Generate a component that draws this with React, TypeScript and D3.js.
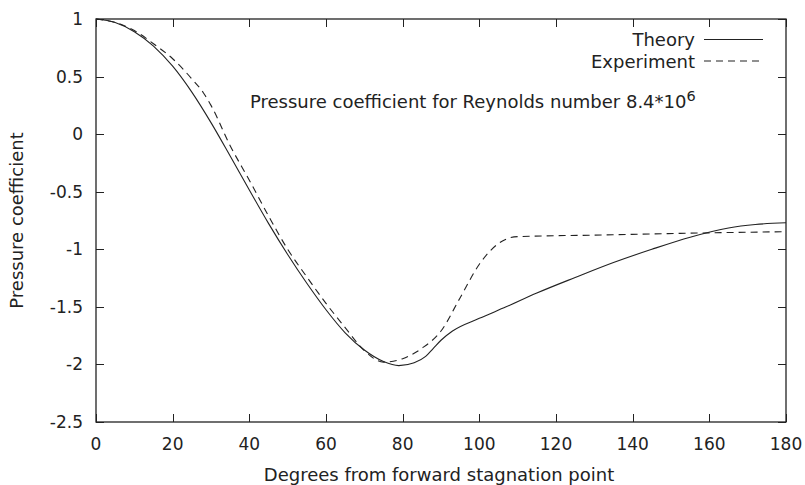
import React, { useEffect, useRef } from "react";
import * as d3 from "d3";

// degrees from forward stagnation point
const theoryDeg = [0, 5, 10, 15, 20, 25, 30, 35, 40, 45, 50, 55, 60, 65, 70, 75, 79, 83, 86, 88, 90, 93, 100, 107, 115, 125, 135, 145, 155, 165, 172, 180];
const theoryCp = [1.0, 0.97, 0.89, 0.765, 0.59, 0.365, 0.1, -0.19, -0.485, -0.775, -1.045, -1.295, -1.525, -1.725, -1.875, -1.975, -2.01, -1.985, -1.93, -1.86, -1.79, -1.71, -1.6, -1.5, -1.38, -1.245, -1.115, -1.0, -0.895, -0.815, -0.785, -0.77];

const expDeg = [0, 5, 10, 15, 20, 25, 28, 30, 35, 40, 45, 50, 55, 60, 65, 70, 75, 80, 85, 90, 95, 100, 105, 108, 110, 130, 155, 180];
const expCp = [1.0, 0.97, 0.9, 0.785, 0.655, 0.48, 0.36, 0.25, -0.1, -0.4, -0.71, -1.0, -1.24, -1.47, -1.68, -1.88, -1.98, -1.95, -1.86, -1.71, -1.42, -1.13, -0.95, -0.9, -0.89, -0.877, -0.86, -0.847];

const xTicks = [0, 20, 40, 60, 80, 100, 120, 140, 160, 180];
const yTicks = [1, 0.5, 0, -0.5, -1, -1.5, -2, -2.5];

const W = 805, H = 485;
const left = 96, right = 786, top = 19, bottom = 422;

export default function App() {
  const ref = useRef<SVGSVGElement>(null);

  useEffect(() => {
    const svg = d3.select(ref.current);
    svg.selectAll("*").remove();
    const font = "'DejaVu Sans', sans-serif";
    const ink = "#222";

    const x = d3.scaleLinear().domain([0, 180]).range([left, right]);
    const y = d3.scaleLinear().domain([-2.5, 1]).range([bottom, top]);

    svg.append("rect").attr("width", W).attr("height", H).attr("fill", "white");

    // ticks (inward, mirrored on top/right)
    const tl = 8;
    const g = svg.append("g").attr("stroke", ink).attr("stroke-width", 1);
    xTicks.forEach((t) => {
      const px = Math.round(x(t)) + 0.5;
      g.append("line").attr("x1", px).attr("x2", px).attr("y1", bottom).attr("y2", bottom - tl);
      g.append("line").attr("x1", px).attr("x2", px).attr("y1", top).attr("y2", top + tl);
    });
    yTicks.forEach((t) => {
      const py = Math.round(y(t)) + 0.5;
      g.append("line").attr("x1", left).attr("x2", left + tl).attr("y1", py).attr("y2", py);
      g.append("line").attr("x1", right).attr("x2", right - tl).attr("y1", py).attr("y2", py);
    });

    // tick labels
    svg.append("g").selectAll("text").data(xTicks).join("text")
      .attr("x", (d) => x(d)).attr("y", 450)
      .attr("text-anchor", "middle").attr("font-family", font).attr("font-size", 17).attr("fill", ink)
      .text((d) => String(d));
    svg.append("g").selectAll("text").data(yTicks).join("text")
      .attr("x", 83).attr("y", (d) => y(d) + 6)
      .attr("text-anchor", "end").attr("font-family", font).attr("font-size", 17).attr("fill", ink)
      .text((d) => String(d));

    // curves
    const line = d3.line().curve(d3.curveMonotoneX);
    const theoryPts = theoryDeg.map((d, i) => [x(d), y(theoryCp[i])] as [number, number]);
    const expPts = expDeg.map((d, i) => [x(d), y(expCp[i])] as [number, number]);

    svg.append("path")
      .attr("d", line(theoryPts))
      .attr("fill", "none").attr("stroke", ink).attr("stroke-width", 1.1);
    svg.append("path")
      .attr("d", line(expPts))
      .attr("fill", "none").attr("stroke", ink).attr("stroke-width", 1.1)
      .attr("stroke-dasharray", "7,5");

    // frame
    svg.append("rect")
      .attr("x", left).attr("y", top).attr("width", right - left).attr("height", bottom - top)
      .attr("fill", "none").attr("stroke", ink).attr("stroke-width", 1.3);

    // legend
    const legend = [
      { name: "Theory", dash: null as string | null, y: 39.5 },
      { name: "Experiment", dash: "7,5", y: 61 },
    ];
    legend.forEach((l) => {
      svg.append("text").attr("x", 695).attr("y", l.y + 6.5)
        .attr("text-anchor", "end").attr("font-family", font).attr("font-size", 18).attr("fill", ink)
        .text(l.name);
      const ln = svg.append("line").attr("x1", 704).attr("x2", 763).attr("y1", l.y).attr("y2", l.y)
        .attr("stroke", ink).attr("stroke-width", 1.1);
      if (l.dash) ln.attr("stroke-dasharray", l.dash);
    });

    // title
    const title = svg.append("text").attr("x", 250).attr("y", 108)
      .attr("font-family", font).attr("font-size", 18).attr("fill", ink);
    title.append("tspan").text("Pressure coefficient for Reynolds number 8.4*10");
    title.append("tspan").attr("dy", -7).attr("font-size", 14.5).text("6");

    // axis labels
    svg.append("text").attr("x", (left + right) / 2 - 2).attr("y", 481)
      .attr("text-anchor", "middle").attr("font-family", font).attr("font-size", 18).attr("fill", ink)
      .text("Degrees from forward stagnation point");
    svg.append("text").attr("transform", `translate(23,${(top + bottom) / 2}) rotate(-90)`)
      .attr("text-anchor", "middle").attr("font-family", font).attr("font-size", 18).attr("fill", ink)
      .text("Pressure coefficient");
  }, []);

  return <svg ref={ref} width={W} height={H} style={{ position: "absolute", left: 0, top: 0 }} />;
}
